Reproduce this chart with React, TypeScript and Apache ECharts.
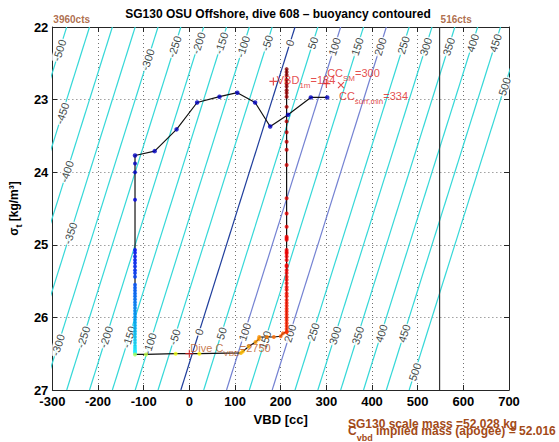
import { useEffect, useRef } from "react";
import * as echarts from "echarts";

const FONT = "'Liberation Sans', Arial, Helvetica, sans-serif";

// ---- axes ----
const X_MIN = -300;
const X_MAX = 700;
const X_STEP = 100;
const Y_MIN = 22;
const Y_MAX = 27;
const Y_STEP = 1;

const TITLE = "SG130 OSU Offshore, dive 608 \u2013 buoyancy contoured";
const X_NAME = "VBD [cc]";

// ---- buoyancy contours: VBD on contour = level + SLOPE * (SIGMA_REF - sigma) ----
const CONTOUR_LEVELS = [-500, -450, -400, -350, -300, -250, -200, -150, -100, -50, 0, 50, 100, 150, 200, 250, 300, 350, 400, 450, 500];
const CONTOUR_SLOPE = 50;
const CONTOUR_SIGMA_REF = 26.628;
const ZERO_LEVEL = 0;
const MARKED_LEVELS = [100, 200];

// contour label placements (level, sigma)
const LABEL_LEVELS = [
  -500, -450, -400, -350, -300, -250, -200, -150, -100, -50, 0, 50, 100, 150, 200, 250, 300, 350, 400, 450, 500,
  -300, -250, -200, -150, -100, -50, 0, 50, 100, 150, 200, 250, 300, 350, 400, 450, 500,
];
const LABEL_SIGMAS = [
  22.32, 23.19, 23.99, 24.84, 22.45, 22.27, 22.22, 22.22, 22.27, 22.22, 22.22, 22.22, 22.27, 22.27, 22.27, 22.25, 22.27, 22.27, 22.22, 22.22, 22.82,
  26.38, 26.27, 26.27, 26.27, 26.36, 26.27, 26.2, 26.22, 26.2, 26.31, 26.22, 26.2, 26.25, 26.25, 26.22, 26.22, 26.75,
];

// ---- dive trace ----
const TOP_VBD = [302, 266, 216, 177, 144, 105, 66, 17, -28, -76, -119];
const TOP_SIGMA = [22.97, 22.97, 23.21, 23.37, 23.04, 22.905, 22.96, 23.04, 23.41, 23.71, 23.77];

const DESCENT_VBD = -119;
const DESCENT_SIGMA = [
  23.88, 24.0, 24.38, 25.07, 25.11, 25.16, 25.21, 25.25, 25.3, 25.35, 25.39, 25.44, 25.55, 25.59, 25.63, 25.67,
  25.71, 25.75, 25.79, 25.83, 25.87, 25.91, 25.95, 25.99, 26.03, 26.07, 26.11, 26.15, 26.19, 26.23, 26.27, 26.31,
  26.35, 26.39, 26.42, 26.45, 26.47, 26.49,
];

const BOTTOM_VBD = [-119, -95, -30, 22, 113, 117, 130, 145, 152, 153, 170, 185, 200, 205, 213];
const BOTTOM_SIGMA = [26.51, 26.51, 26.5, 26.5, 26.49, 26.47, 26.4, 26.34, 26.3, 26.27, 26.27, 26.27, 26.26, 26.22, 26.2];

const ASCENT_VBD = 213;
const ASCENT_SIGMA = [
  26.2, 26.16, 26.12, 26.08, 26.04, 26.0, 25.96, 25.92, 25.88, 25.84, 25.8, 25.76, 25.71, 25.67, 25.62, 25.58,
  25.53, 25.48, 25.44, 25.39, 25.35, 25.3, 25.28, 25.21, 25.16, 25.12, 25.1, 25.07, 24.93, 24.91, 24.89, 24.75,
  24.57, 24.36, 23.9, 23.69, 23.58, 23.45, 23.3, 23.1, 22.96, 22.91, 22.87, 22.82, 22.78, 22.73, 22.66, 22.62, 22.58,
];

// ---- annotations ----
const VBD_1M = 184;
const VBD_1M_SIGMA = 22.75;
const CC_SM = 300;
const CC_SM_SIGMA = 22.78;
const CC_SURF_MIN = 334;
const CC_SURF_MIN_VBD = 332;
const CC_SURF_MIN_SIGMA = 22.8;
const DIVE_C_VBD = 2750;
const DIVE_C_POS = [0, 26.5];

const COUNT_VBD = [-300, 548];
const COUNT_LABELS = ["3960cts", "516cts"];

const SCALE_MASS = "52.028";
const IMPLIED_MASS = "52.016";

const RED = "#dd2020";
const BROWN = "#a34a18";
const DIVE_BROWN = "#b8561c";

const vbdOn = (level: number, sigma: number) => level + CONTOUR_SLOPE * (CONTOUR_SIGMA_REF - sigma);
const contourColor = (level: number) =>
  level === ZERO_LEVEL ? "#1f3e9c" : MARKED_LEVELS.includes(level) ? "#7482d2" : "#36d8d8";

const PLUS = "path://M5,0L5,10M0,5L10,5";
const CROSS = "path://M0,0L10,10M10,0L0,10";

const subRich = (color: string, size = 11, sub = 8, pad = 7) => ({
  m: { fontSize: size, fontFamily: FONT, color, verticalAlign: "top", lineHeight: size + 1 },
  s: { fontSize: sub, fontFamily: FONT, color, verticalAlign: "top", padding: [pad, 0, 0, 0] },
});

function buildOption(): any {
  const series: any[] = [];

  CONTOUR_LEVELS.forEach((level) =>
    series.push({
      type: "line",
      silent: true,
      symbol: "none",
      clip: true,
      z: 1,
      data: [
        [vbdOn(level, Y_MIN), Y_MIN],
        [vbdOn(level, Y_MAX), Y_MAX],
      ],
      lineStyle: { color: contourColor(level), width: 1.2 },
    })
  );

  series.push({
    type: "scatter",
    silent: true,
    clip: false,
    z: 3,
    symbolSize: 0,
    data: LABEL_LEVELS.map((lv, i) => [vbdOn(lv, LABEL_SIGMAS[i]), LABEL_SIGMAS[i], lv]),
    label: {
      show: true,
      position: "inside",
      rotate: 72,
      formatter: (p: any) => String(p.value[2]),
      fontSize: 11,
      fontFamily: FONT,
      color: "#111",
      backgroundColor: "#fff",
      padding: [0, 1],
    },
  });

  // vertical count line
  series.push({
    type: "line",
    silent: true,
    symbol: "none",
    z: 2,
    data: [
      [COUNT_VBD[1], Y_MIN],
      [COUNT_VBD[1], Y_MAX],
    ],
    lineStyle: { color: "#333", width: 1.2 },
  });

  // count labels
  series.push({
    type: "scatter",
    silent: true,
    clip: false,
    z: 5,
    symbolSize: 0,
    data: COUNT_VBD.map((v, i) => [v, Y_MIN, COUNT_LABELS[i]]),
    label: {
      show: true,
      position: [1, -13],
      align: "left",
      verticalAlign: "top",
      formatter: (p: any) => p.value[2],
      fontSize: 10,
      fontWeight: "bold",
      fontFamily: FONT,
      color: "#9a4a1c",
    },
  });

  const pathData = [
    ...TOP_VBD.map((v, i) => [v, TOP_SIGMA[i]]),
    ...DESCENT_SIGMA.map((s) => [DESCENT_VBD, s]),
    ...BOTTOM_VBD.map((v, i) => [v, BOTTOM_SIGMA[i]]),
    ...ASCENT_SIGMA.map((s) => [ASCENT_VBD, s]),
  ];
  series.push({
    type: "line",
    silent: true,
    symbol: "none",
    z: 4,
    data: pathData,
    lineStyle: { color: "#111", width: 1.2 },
  });

  series.push({
    type: "scatter",
    silent: true,
    z: 5,
    symbolSize: 4.5,
    itemStyle: { color: "#0000c0" },
    data: TOP_VBD.map((v, i) => [v, TOP_SIGMA[i]]),
  });

  const descentIdx = series.length;
  series.push({
    type: "scatter",
    silent: true,
    z: 5,
    symbolSize: 4,
    data: DESCENT_SIGMA.map((s) => [DESCENT_VBD, s]),
  });
  const bottomIdx = series.length;
  series.push({
    type: "scatter",
    silent: true,
    z: 5,
    symbolSize: 4,
    data: BOTTOM_VBD.map((v, i) => [v, BOTTOM_SIGMA[i]]),
  });
  const ascentIdx = series.length;
  series.push({
    type: "scatter",
    silent: true,
    z: 5,
    symbolSize: 4,
    data: ASCENT_SIGMA.map((s) => [ASCENT_VBD, s]),
  });

  // annotation markers
  series.push({
    type: "scatter",
    silent: true,
    clip: false,
    z: 6,
    symbolSize: 8,
    itemStyle: { color: "none", borderColor: RED, borderWidth: 1.2 },
    data: [
      { value: [VBD_1M, VBD_1M_SIGMA], symbol: PLUS },
      { value: [CC_SM, CC_SM_SIGMA], symbol: PLUS },
      { value: [CC_SURF_MIN_VBD, CC_SURF_MIN_SIGMA], symbol: CROSS, symbolSize: 6 },
      { value: DIVE_C_POS, symbol: PLUS },
    ],
  });

  // annotation texts
  const annLabel = (dx: number, dy: number, text: string, color: string) => ({
    show: true,
    position: [dx, dy],
    align: "left",
    verticalAlign: "top",
    formatter: text,
    rich: subRich(color),
  });
  series.push({
    type: "scatter",
    silent: true,
    clip: false,
    z: 7,
    symbolSize: 0,
    data: [
      { value: [VBD_1M, VBD_1M_SIGMA], label: annLabel(3.4, -6.5, `{m|VBD}{s|1m}{m|=${VBD_1M}}`, RED) },
      { value: [CC_SM, CC_SM_SIGMA], label: annLabel(0.8, -16, `{m|CC}{s|SM}{m|=${CC_SM}}`, RED) },
      {
        value: [CC_SURF_MIN_VBD, CC_SURF_MIN_SIGMA],
        label: annLabel(-2, 5.4, `{m|CC}{s|surf,min}{m|=${CC_SURF_MIN}}`, RED),
      },
      { value: DIVE_C_POS, label: annLabel(1, -11.7, `{m|Dive C}{s|VBD}{m|=${DIVE_C_VBD}}`, DIVE_BROWN) },
    ],
  });

  const axisLineStyle = { color: "#262626", width: 1 };
  const tickLabel = { color: "#000", fontSize: 13, fontWeight: "bold", fontFamily: FONT };
  const split = { show: true, lineStyle: { color: "#707070", type: [1, 3], width: 1 } };

  return {
    animation: false,
    backgroundColor: "#fff",
    grid: { left: 47, top: 27, width: 462, height: 363, containLabel: false },
    xAxis: [
      {
        type: "value",
        position: "bottom",
        min: X_MIN,
        max: X_MAX,
        interval: X_STEP,
        axisLine: { show: true, onZero: false, lineStyle: axisLineStyle },
        axisTick: { show: true, inside: true, length: 5, lineStyle: axisLineStyle },
        axisLabel: { ...tickLabel, margin: 5 },
        splitLine: split,
        name: X_NAME,
        nameLocation: "middle",
        nameGap: 19,
        nameTextStyle: { color: "#000", fontSize: 13, fontWeight: "bold", fontFamily: FONT },
      },
      {
        type: "value",
        position: "top",
        min: X_MIN,
        max: X_MAX,
        interval: X_STEP,
        axisLine: { show: true, onZero: false, lineStyle: axisLineStyle },
        axisTick: { show: true, inside: true, length: 5, lineStyle: axisLineStyle },
        axisLabel: { show: false },
        splitLine: { show: false },
      },
    ],
    yAxis: [
      {
        type: "value",
        position: "left",
        inverse: true,
        min: Y_MIN,
        max: Y_MAX,
        interval: Y_STEP,
        axisLine: { show: true, onZero: false, lineStyle: axisLineStyle },
        axisTick: { show: true, inside: true, length: 5, lineStyle: axisLineStyle },
        axisLabel: { ...tickLabel, margin: 4 },
        splitLine: split,
        name: "{m|\u03c3}{s|t}{m| [kg/m\u00b3]}",
        nameLocation: "middle",
        nameGap: 24,
        nameRotate: 90,
        nameTextStyle: {
          rich: {
            m: { fontSize: 12, fontWeight: "bold", fontFamily: FONT, color: "#000", verticalAlign: "top", lineHeight: 13 },
            s: { fontSize: 9, fontWeight: "bold", fontFamily: FONT, color: "#000", verticalAlign: "top", padding: [6, 0, 0, 0] },
          },
        },
      },
      {
        type: "value",
        position: "right",
        inverse: true,
        min: Y_MIN,
        max: Y_MAX,
        interval: Y_STEP,
        axisLine: { show: true, onZero: false, lineStyle: axisLineStyle },
        axisTick: { show: true, inside: true, length: 5, lineStyle: axisLineStyle },
        axisLabel: { show: false },
        splitLine: { show: false },
      },
    ],
    visualMap: [
      {
        type: "continuous",
        show: false,
        seriesIndex: descentIdx,
        dimension: 1,
        min: 23.8,
        max: 26.5,
        inRange: { color: ["#0000c0", "#0000d8", "#0000f0", "#0008ff", "#0030ff", "#0070ff", "#00b8ff", "#20f0ff"] },
      },
      {
        type: "continuous",
        show: false,
        seriesIndex: bottomIdx,
        dimension: 0,
        min: -119,
        max: 213,
        inRange: { color: ["#a8ff58", "#e8ff18", "#ffff00", "#ffe000", "#ff9a00", "#ff4a00"] },
      },
      {
        type: "continuous",
        show: false,
        seriesIndex: ascentIdx,
        dimension: 1,
        min: 22.58,
        max: 26.2,
        inRange: { color: ["#8a0000", "#b80000", "#dd0000", "#f50000", "#ff2a00"] },
      },
    ],
    graphic: [
      {
        type: "text",
        x: 278,
        y: 14,
        z: 10,
        style: {
          text: TITLE,
          fill: "#000",
          font: `bold 12px ${FONT}`,
          align: "center",
          textAlign: "center",
          verticalAlign: "middle",
          textVerticalAlign: "middle",
        },
      },
      {
        type: "text",
        x: 348,
        y: 424,
        z: 10,
        style: {
          text: `SG130 scale mass =${SCALE_MASS} kg`,
          fill: BROWN,
          font: `bold 12px ${FONT}`,
          verticalAlign: "middle",
          textVerticalAlign: "middle",
        },
      },
      {
        type: "text",
        x: 348,
        y: 425,
        z: 10,
        style: {
          text: `{m|C}{s|vbd}{m| implied mass (apogee) = ${IMPLIED_MASS} kg}`,
          fill: BROWN,
          font: `bold 12px ${FONT}`,
          verticalAlign: "top",
          textVerticalAlign: "top",
          rich: {
            m: { fontSize: 12, fontWeight: "bold", fontFamily: FONT, fill: BROWN, color: BROWN, verticalAlign: "top", lineHeight: 12 },
            s: { fontSize: 9, fontWeight: "bold", fontFamily: FONT, fill: BROWN, color: BROWN, verticalAlign: "top", padding: [8, 0, 0, 0] },
          },
        },
      },
    ],
    series,
  };
}

export default function App() {
  const ref = useRef<HTMLDivElement>(null);
  useEffect(() => {
    if (!ref.current) return;
    const chart = echarts.init(ref.current, null, { renderer: "svg" });
    chart.setOption(buildOption());
    return () => chart.dispose();
  }, []);
  return (
    <div
      ref={ref}
      style={{ position: "absolute", left: 0, top: 0, width: 559, height: 442, background: "#fff" }}
    />
  );
}
